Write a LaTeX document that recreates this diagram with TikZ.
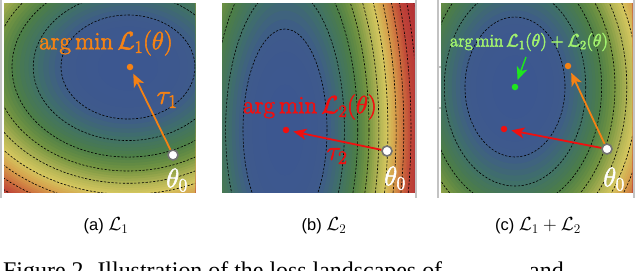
\RequirePackage{fix-cm}
\documentclass[tikz,border=0pt]{standalone}
\usepackage{fontspec}
\newfontfamily\subcapfont{Liberation Sans}
\newfontfamily\capfont{Liberation Serif}
\usetikzlibrary{arrows.meta}

\definecolor{c0}{RGB}{60,86,145}
\definecolor{c1}{RGB}{62,90,140}
\definecolor{c2}{RGB}{64,112,104}
\definecolor{c3}{RGB}{76,126,72}
\definecolor{c4}{RGB}{115,148,66}
\definecolor{c5}{RGB}{170,176,82}
\definecolor{c6}{RGB}{212,198,94}
\definecolor{c7}{RGB}{214,160,76}
\definecolor{c8}{RGB}{205,112,62}
\definecolor{c9}{RGB}{192,72,56}
\definecolor{c10}{RGB}{185,58,55}
\definecolor{c11}{RGB}{180,50,52}
\definecolor{c12}{RGB}{178,48,50}
\definecolor{c13}{RGB}{176,46,50}
\definecolor{c14}{RGB}{175,45,50}
\definecolor{c15}{RGB}{175,45,50}
\definecolor{lorange}{RGB}{245,130,20}
\definecolor{lred}{RGB}{240,15,15}
\definecolor{lgreen}{RGB}{30,230,30}
\definecolor{lpale}{RGB}{160,240,110}
\definecolor{rimgray}{RGB}{115,115,115}
\definecolor{framegray}{RGB}{195,195,195}

\newcommand{\heavytext}[1]{\special{pdf:code 2 Tr 0.55 w}#1\special{pdf:code 0 Tr}}

\tikzset{
  contour/.style={black, line width=0.6bp, dash pattern=on 2.2bp off 1.6bp},
  dot/.style={circle, inner sep=0pt, minimum size=6.5bp},
  startpt/.style={circle, inner sep=0pt, minimum size=10bp, fill=white, draw=rimgray, line width=1.6bp},
  vec/.style={line width=1.8bp, shorten >=4bp, -{Stealth[length=13bp, width=11bp, inset=3.5bp]}},
  lab/.style={inner sep=0pt, font=\fontsize{25}{25}\selectfont},
  biglab/.style={inner sep=0pt, font=\fontsize{27}{27}\selectfont},
  subcap/.style={inner sep=0pt, font=\subcapfont\fontsize{16.5}{16.5}\selectfont},
  framel/.style={framegray, line width=1.3bp}
}

\newcommand{\submath}[1]{{\fontsize{19}{19}\selectfont$#1$}}

\newcommand{\lossfield}[5]{%
  \fill[c15] (#1,#2) ellipse [x radius={#3*4.2}, y radius={#4*4.2}, rotate=#5];
  \foreach \i in {74,73,...,1}{%
    \pgfmathtruncatemacro{\k}{floor(\i/5)}%
    \pgfmathtruncatemacro{\kk}{\k+1}%
    \pgfmathtruncatemacro{\p}{20*(\i-5*\k)}%
    \colorlet{cc}{c\kk!\p!c\k}%
    \fill[cc] (#1,#2) ellipse [x radius={#3*sqrt(\i/5)}, y radius={#4*sqrt(\i/5)}, rotate=#5];
  }%
  \foreach \j in {1,...,16}{%
    \draw[contour] (#1,#2) ellipse [x radius={#3*sqrt(\j)}, y radius={#4*sqrt(\j)}, rotate=#5];
  }}

\begin{document}
\begin{tikzpicture}[x=1bp, y=-1bp]
\useasboundingbox (0,0) rectangle (636,270);

% frame lines
\draw[framel] (1,0) -- (1,198);
\draw[framel] (416,0) -- (416,198);
\draw[framel] (438,0) -- (438,198);
\draw[framel] (634,0) -- (634,198);
\draw[framel] (438,67) -- (441,67);
\draw[framel] (438,108) -- (441,108);

% panel (a)
\begin{scope}
  \clip (4,3) rectangle (195,192);
  \lossfield{128}{67}{67}{52}{0}
\end{scope}
\node[dot, fill=lorange] (m1) at (130,67) {};
\node[startpt] (s1) at (173,155) {};
\draw[vec, lorange] (s1) -- (m1);
\node[lab, text=lorange] (l1) at (106,43) {\heavytext{$\arg\min\mathcal{L}_1(\theta)$}};
\node[biglab, text=lorange] (t1) at (167,100) {\heavytext{$\tau_1$}};
\node[biglab, text=white] (z1) at (177,180) {\heavytext{$\theta_0$}};

% panel (b)
\begin{scope}
  \clip (222,3) rectangle (414,192);
  \lossfield{285}{130}{42}{101}{0}
\end{scope}
\node[dot, fill=lred] (m2) at (286,130) {};
\node[startpt] (s2) at (387,151) {};
\draw[vec, lred] (s2) -- (m2);
\node[lab, text=lred] (l2) at (310,107) {\heavytext{$\arg\min\mathcal{L}_2(\theta)$}};
\node[biglab, text=lred] (t2) at (337,156) {\heavytext{$\tau_2$}};
\node[biglab, text=white] (z2) at (395,178) {\heavytext{$\theta_0$}};

% panel (c)
\begin{scope}
  \clip (441,3) rectangle (632,192);
  \lossfield{515}{87}{50}{70}{0}
\end{scope}
\node[dot, fill=lorange] (m3a) at (568,66) {};
\node[dot, fill=lred] (m3b) at (504,129) {};
\node[dot, fill=lgreen] (m3c) at (515,87) {};
\node[startpt] (s3) at (607,149) {};
\draw[vec, lorange] (s3) -- (m3a);
\draw[vec, lred] (s3) -- (m3b);
\coordinate (g0) at (526,57);
\draw[vec, lgreen, line width=1.5bp] (g0) -- (m3c);
\node[inner sep=0pt, font=\fontsize{18}{18}\selectfont, text=lpale] (l3) at (529,42) {\heavytext{$\arg\min\mathcal{L}_1(\theta)+\mathcal{L}_2(\theta)$}};
\node[biglab, text=white] (z3) at (614,179) {\heavytext{$\theta_0$}};

% sub-captions
\node[subcap] (ca) at (106,226) {(a) \submath{\mathcal{L}_1}};
\node[subcap] (cb) at (324,226) {(b) \submath{\mathcal{L}_2}};
\node[subcap] (cc) at (538,226) {(c) \submath{\mathcal{L}_1+\mathcal{L}_2}};

% figure caption (cut by the page edge)
\node[anchor=base west, inner sep=0pt, font=\capfont\fontsize{24}{24}\selectfont] (fc) at (3,278) {Figure 2. Illustration of the loss landscapes of};
\node[anchor=base west, inner sep=0pt, font=\capfont\fontsize{24}{24}\selectfont] (fa) at (529,278) {and};
\end{tikzpicture}
\end{document}
